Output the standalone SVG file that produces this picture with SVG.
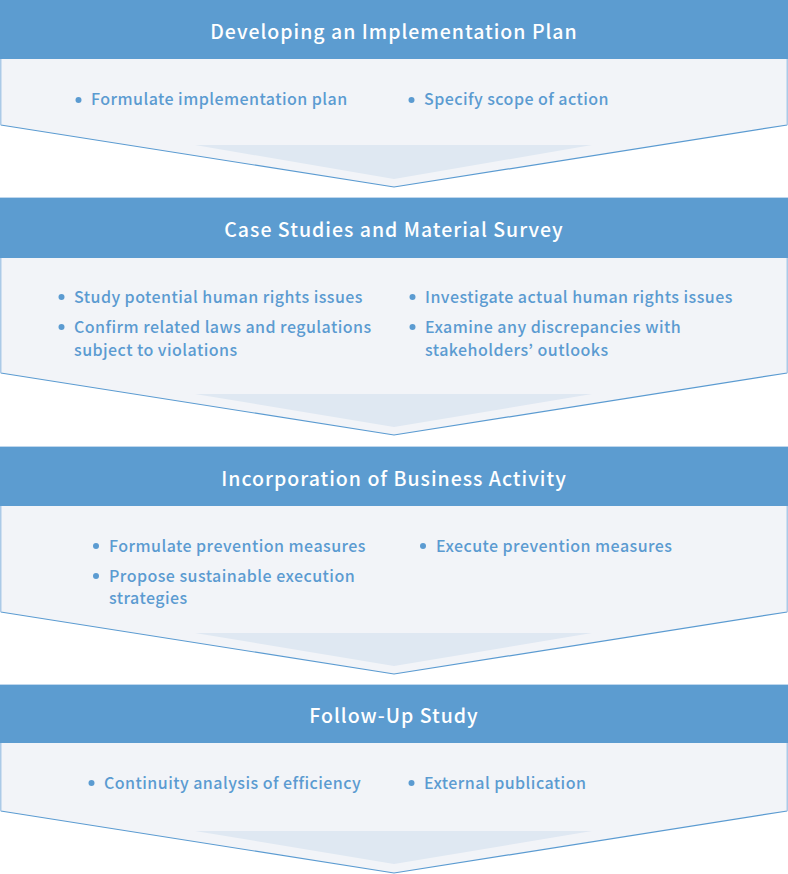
<svg xmlns="http://www.w3.org/2000/svg" width="788" height="874" viewBox="0 0 788 874">
<defs>
<style>
.body{fill:#f2f4f8}
.diag{fill:none;stroke:#5b9bd1;stroke-width:1.2}
.side{fill:none;stroke:#abcae7;stroke-width:1.5}
.inner{fill:#dfe8f2}
.head{fill:#5c9cd0}
.title{font-family:"Noto Sans CJK JP","Noto Sans",sans-serif;font-size:19.5px;font-weight:500;fill:#ffffff;text-anchor:middle;letter-spacing:1px}
.txt{font-family:"Noto Sans CJK JP","Noto Sans",sans-serif;font-size:16px;font-weight:500;fill:#5b9bd1;letter-spacing:0.45px}
.dot{fill:#5b9bd1}
</style>
</defs>
<rect width="788" height="874" fill="#ffffff"/>

<g id="step1">
<polygon class="body" points="0.75,0 787.25,0 787.25,125 394,187 0.75,125"/>
<polygon class="inner" points="195,145 592,145 394,179"/>
<polyline class="diag" points="0.75,125 394,187 787.25,125"/>
<polyline class="side" points="0.75,125 0.75,0 787.25,0 787.25,125"/>
<rect class="head" x="0" y="0" width="788" height="59"/>
<text class="title" x="394" y="39">Developing an Implementation Plan</text>
<circle class="dot" cx="78.5" cy="100" r="3"/>
<text class="txt" x="91" y="105">Formulate implementation plan</text>
<circle class="dot" cx="411.5" cy="100" r="3"/>
<text class="txt" x="424" y="105">Specify scope of action</text>
</g>

<g id="step2">
<polygon class="body" points="0.75,198 787.25,198 787.25,373 394,435 0.75,373"/>
<polygon class="inner" points="195,394 592,394 394,427"/>
<polyline class="diag" points="0.75,373 394,435 787.25,373"/>
<polyline class="side" points="0.75,373 0.75,198 787.25,198 787.25,373"/>
<rect class="head" x="0" y="198" width="788" height="60"/>
<text class="title" x="394" y="237">Case Studies and Material Survey</text>
<circle class="dot" cx="61.5" cy="297" r="3"/>
<text class="txt" x="74" y="303">Study potential human rights issues</text>
<circle class="dot" cx="61.5" cy="327" r="3"/>
<text class="txt" x="74" y="333">Confirm related laws and regulations</text>
<text class="txt" x="74" y="356">subject to violations</text>
<circle class="dot" cx="412.5" cy="297" r="3"/>
<text class="txt" x="425" y="303">Investigate actual human rights issues</text>
<circle class="dot" cx="412.5" cy="327" r="3"/>
<text class="txt" x="425" y="333">Examine any discrepancies with</text>
<text class="txt" x="425" y="356">stakeholders’ outlooks</text>
</g>

<g id="step3">
<polygon class="body" points="0.75,447 787.25,447 787.25,612 394,674 0.75,612"/>
<polygon class="inner" points="195,633 592,633 394,666"/>
<polyline class="diag" points="0.75,612 394,674 787.25,612"/>
<polyline class="side" points="0.75,612 0.75,447 787.25,447 787.25,612"/>
<rect class="head" x="0" y="447" width="788" height="59"/>
<text class="title" x="394" y="486">Incorporation of Business Activity</text>
<circle class="dot" cx="96" cy="546" r="3"/>
<text class="txt" x="109" y="552">Formulate prevention measures</text>
<circle class="dot" cx="96" cy="576" r="3"/>
<text class="txt" x="109" y="582">Propose sustainable execution</text>
<text class="txt" x="109" y="604">strategies</text>
<circle class="dot" cx="423" cy="546" r="3"/>
<text class="txt" x="436" y="552">Execute prevention measures</text>
</g>

<g id="step4">
<polygon class="body" points="0.75,685 787.25,685 787.25,811 394,873 0.75,811"/>
<polygon class="inner" points="195,831 592,831 394,864"/>
<polyline class="diag" points="0.75,811 394,873 787.25,811"/>
<polyline class="side" points="0.75,811 0.75,685 787.25,685 787.25,811"/>
<rect class="head" x="0" y="685" width="788" height="58"/>
<text class="title" x="394" y="723">Follow-Up Study</text>
<circle class="dot" cx="91.5" cy="783" r="3"/>
<text class="txt" x="104" y="789">Continuity analysis of efficiency</text>
<circle class="dot" cx="411.5" cy="783" r="3"/>
<text class="txt" x="424" y="789">External publication</text>
</g>

<g id="connectors"></g>
</svg>
